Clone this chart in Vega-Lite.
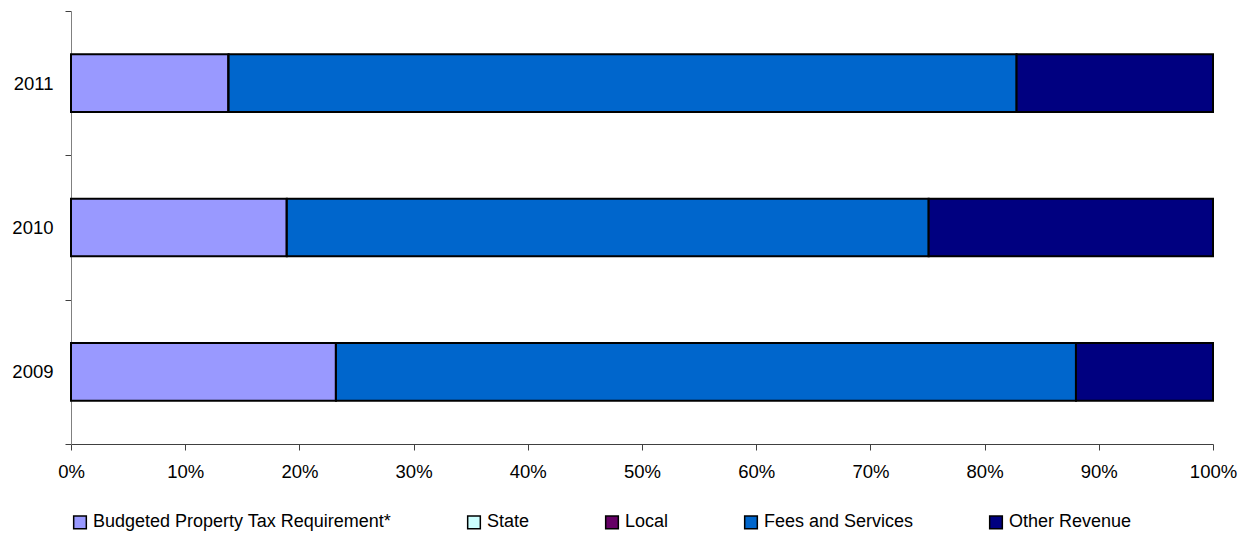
{
  "$schema": "https://vega.github.io/schema/vega-lite/v6.json",
  "width": 1142,
  "height": 433,
  "autosize": {"type": "none"},
  "padding": {"left": 71, "top": 11, "right": 32, "bottom": 100},
  "background": "white",
  "config": {
    "view": {"stroke": null},
    "font": "Liberation Sans",
    "axis": {"labelFont": "Liberation Sans", "labelColor": "#000000", "labelFontSize": 18.5, "title": null, "grid": false}
  },
  "data": {
    "values": [
      {"year": "2009", "source": "Budgeted Property Tax Requirement*", "k": 1, "share": 0.232},
      {"year": "2009", "source": "State", "k": 2, "share": 0},
      {"year": "2009", "source": "Local", "k": 3, "share": 0},
      {"year": "2009", "source": "Fees and Services", "k": 4, "share": 0.648},
      {"year": "2009", "source": "Other Revenue", "k": 5, "share": 0.120},
      {"year": "2010", "source": "Budgeted Property Tax Requirement*", "k": 1, "share": 0.189},
      {"year": "2010", "source": "State", "k": 2, "share": 0},
      {"year": "2010", "source": "Local", "k": 3, "share": 0},
      {"year": "2010", "source": "Fees and Services", "k": 4, "share": 0.562},
      {"year": "2010", "source": "Other Revenue", "k": 5, "share": 0.249},
      {"year": "2011", "source": "Budgeted Property Tax Requirement*", "k": 1, "share": 0.138},
      {"year": "2011", "source": "State", "k": 2, "share": 0},
      {"year": "2011", "source": "Local", "k": 3, "share": 0},
      {"year": "2011", "source": "Fees and Services", "k": 4, "share": 0.690},
      {"year": "2011", "source": "Other Revenue", "k": 5, "share": 0.172}
    ]
  },
  "mark": {"type": "bar", "stroke": "#000000", "strokeWidth": 2, "height": {"band": 0.4}},
  "encoding": {
    "y": {
      "field": "year", "type": "nominal", "sort": "descending",
      "scale": {"paddingInner": 0, "paddingOuter": 0},
      "axis": {"tickBand": "extent", "domainColor": "#808080", "tickColor": "#404040", "tickSize": 6, "labelPadding": 12}
    },
    "x": {
      "field": "share", "type": "quantitative", "stack": "zero",
      "scale": {"domain": [0, 1], "nice": false},
      "axis": {"format": "%", "values": [0, 0.1, 0.2, 0.3, 0.4, 0.5, 0.6, 0.7, 0.8, 0.9, 1], "domainColor": "#404040", "tickColor": "#404040", "tickSize": 6, "labelPadding": 12, "labelFlush": false}
    },
    "color": {
      "field": "source", "type": "nominal",
      "scale": {
        "domain": ["Budgeted Property Tax Requirement*", "State", "Local", "Fees and Services", "Other Revenue"],
        "range": ["#9999FF", "#CCFFFF", "#660066", "#0066CC", "#000080"]
      },
      "legend": {
        "title": null, "orient": "bottom", "direction": "horizontal", "columns": 5,
        "symbolType": "square", "symbolSize": 160, "symbolStrokeColor": "#000000", "symbolStrokeWidth": 1.5,
        "labelFontSize": 18, "labelFont": "Liberation Sans", "labelColor": "#000000", "labelLimit": 400,
        "labelOffset": 4, "columnPadding": 72, "offset": 32
      }
    },
    "order": {"field": "k", "type": "quantitative"}
  }
}
